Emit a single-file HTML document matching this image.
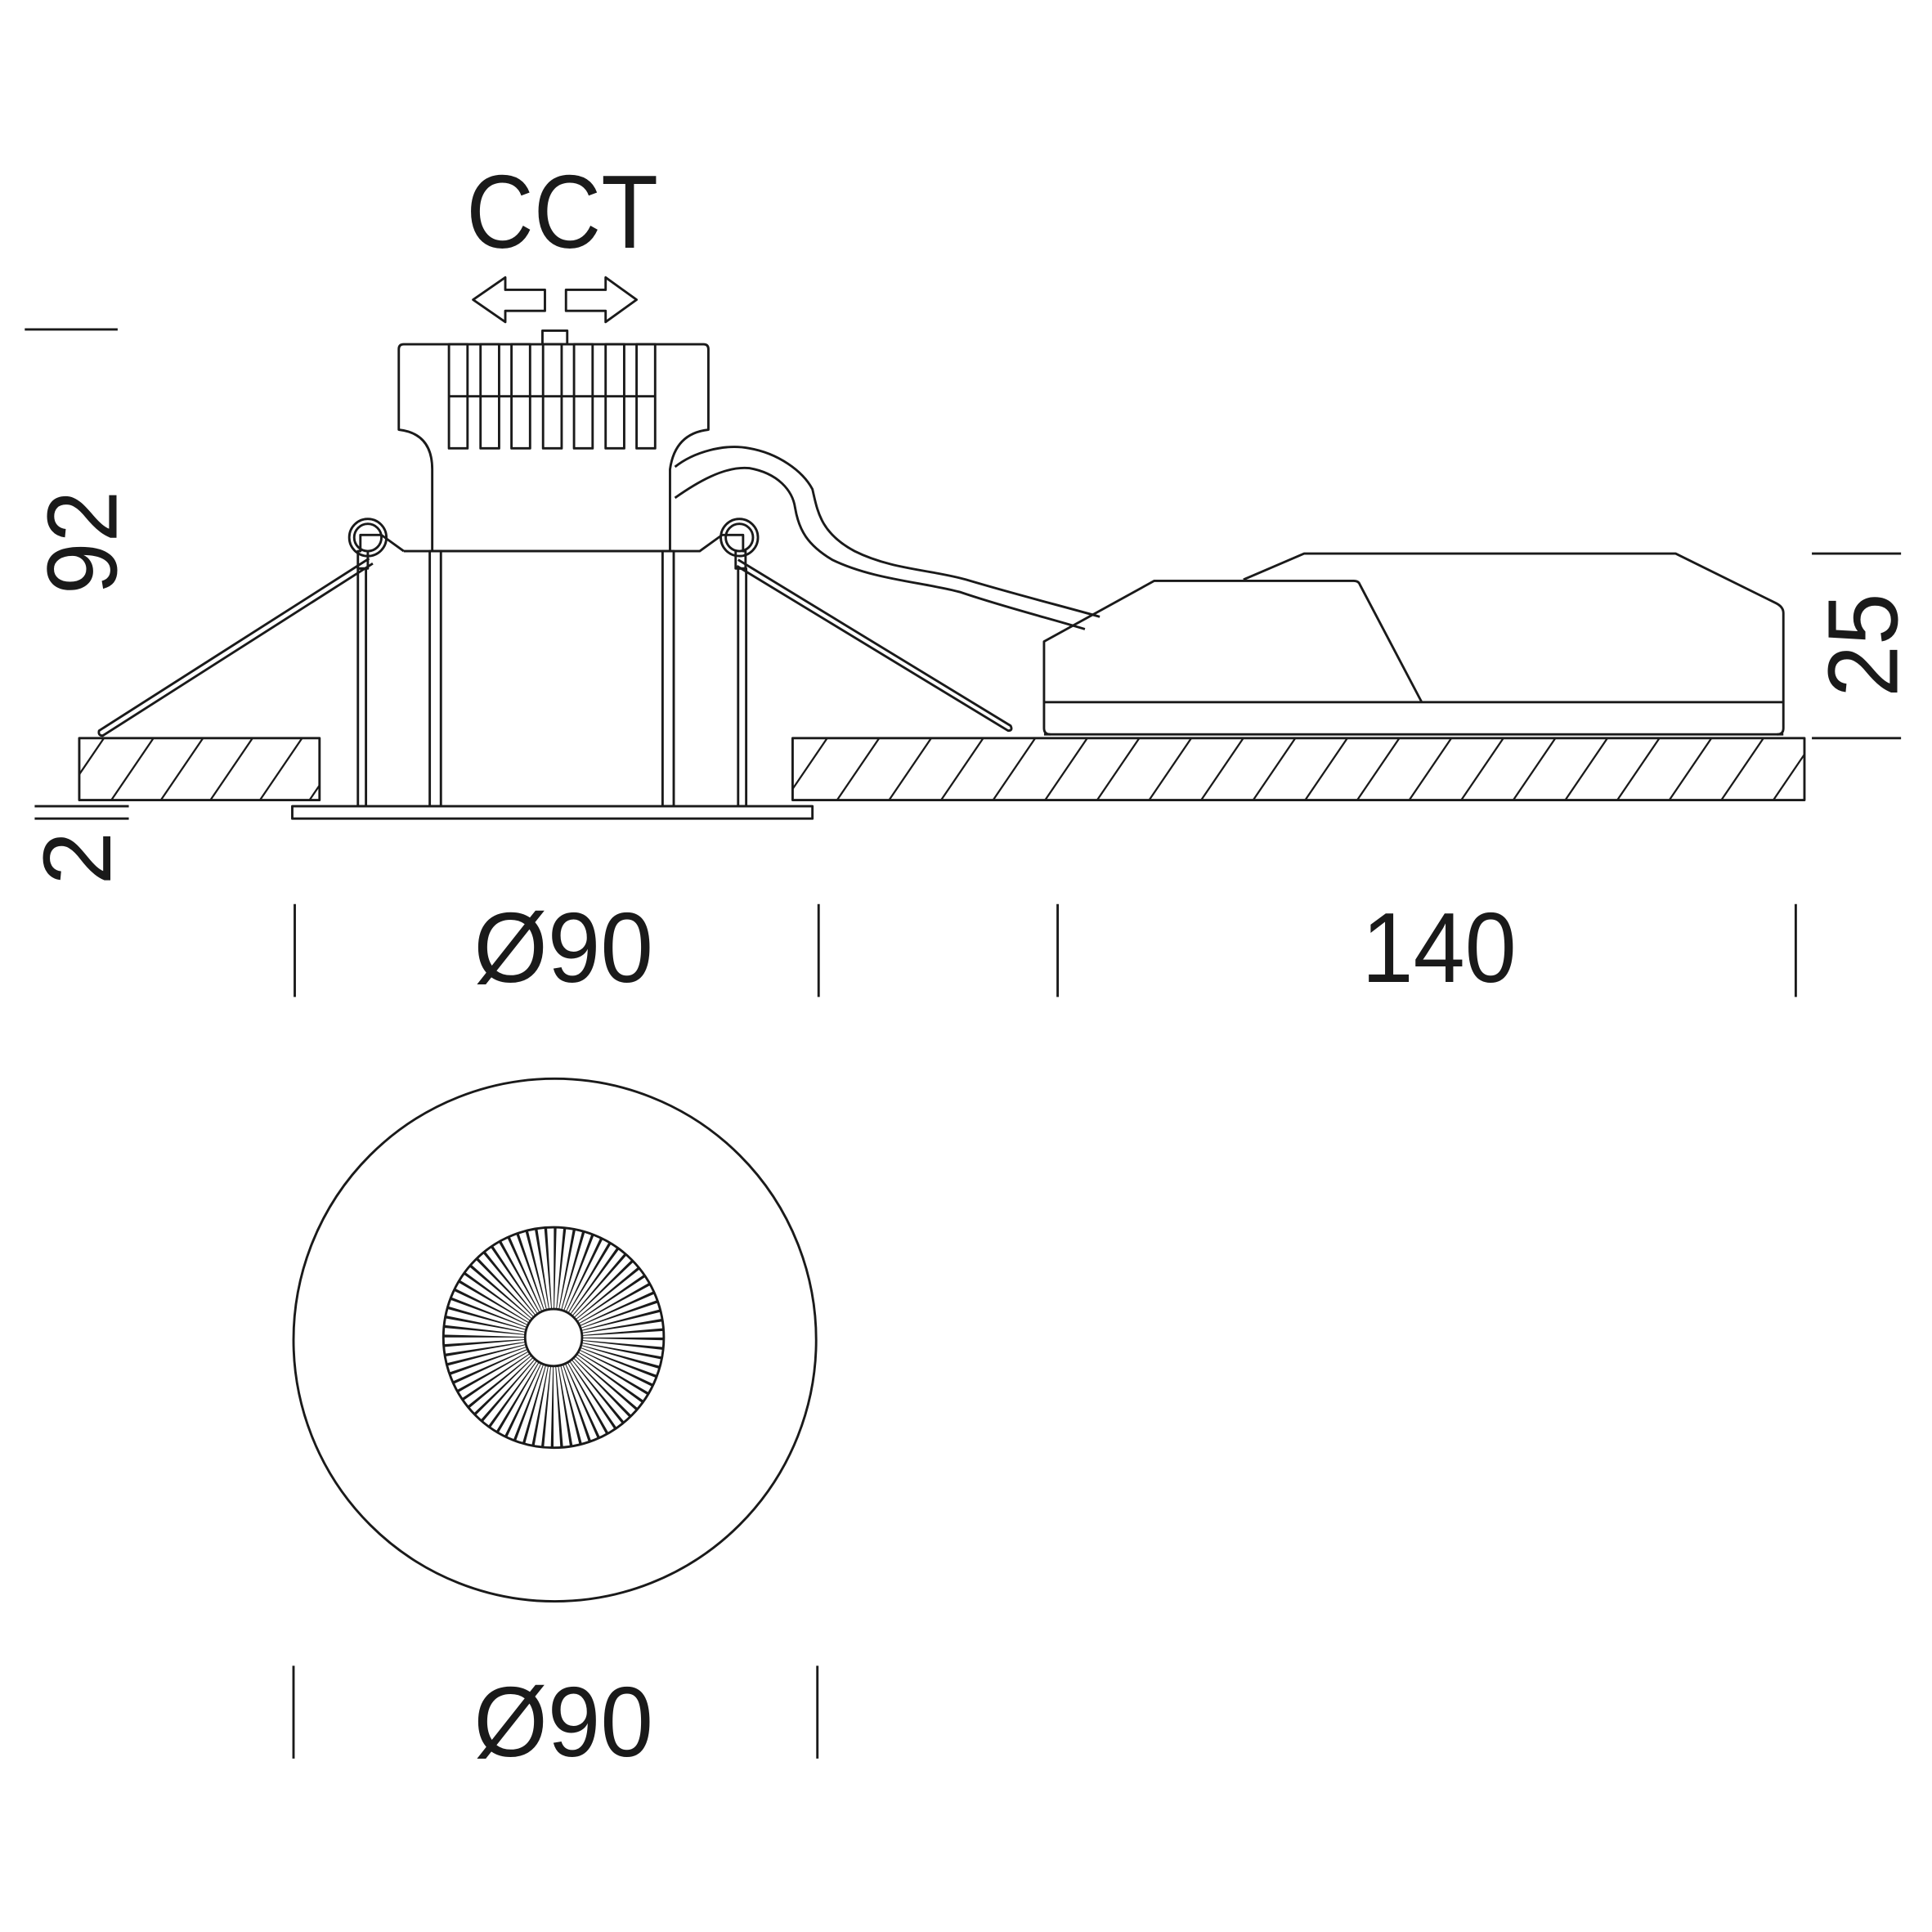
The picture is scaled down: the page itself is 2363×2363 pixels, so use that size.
<!DOCTYPE html>
<html><head><meta charset="utf-8"><style>
html,body{margin:0;padding:0;background:#fff}
svg{display:block}
text{font-family:"Liberation Sans",Arial,sans-serif;fill:#1a1a1a}
</style></head><body>
<svg width="2363" height="2363" viewBox="0 0 1560 1560" xmlns="http://www.w3.org/2000/svg">
<defs>
<clipPath id="cL"><rect x="64" y="596" width="194" height="50"/></clipPath>
<clipPath id="cR"><rect x="640" y="596" width="817" height="50"/></clipPath>
</defs>
<g fill="none" stroke="#1a1a1a" stroke-width="1.9" stroke-linejoin="round">
<line x1="20" y1="266" x2="95" y2="266"/>
<line x1="28" y1="651" x2="104" y2="651"/>
<line x1="28" y1="661" x2="104" y2="661"/>
<line x1="1463" y1="447" x2="1535" y2="447"/>
<line x1="1463" y1="596" x2="1535" y2="596"/>
<line x1="238" y1="730" x2="238" y2="805"/>
<line x1="661" y1="730" x2="661" y2="805"/>
<line x1="854" y1="730" x2="854" y2="805"/>
<line x1="1450" y1="730" x2="1450" y2="805"/>
<line x1="237" y1="1345" x2="237" y2="1420"/>
<line x1="660" y1="1345" x2="660" y2="1420"/>
<path d="M382,242 L408,224 L408,234 L440,234 L440,251 L408,251 L408,260 Z"/>
<path d="M514,242 L489,224 L489,234 L457,234 L457,251 L489,251 L489,260 Z"/>
<rect x="438" y="267" width="20" height="11"/>
<path d="M326,278 L568,278 Q572,278 572,282 L572,347 Q545,350 541,379 L541,445 L349,445 L349,379 Q349,350 322,347 L322,282 Q322,278 326,278 Z"/>
<rect x="362.5" y="278" width="15" height="84"/>
<rect x="388" y="278" width="15" height="84"/>
<rect x="413" y="278" width="15" height="84"/>
<rect x="438.5" y="278" width="15" height="84"/>
<rect x="463.5" y="278" width="15" height="84"/>
<rect x="489" y="278" width="15" height="84"/>
<rect x="514" y="278" width="15" height="84"/>
<line x1="362.5" y1="320" x2="529" y2="320"/>
<path d="M326,445 L565,445 L583,432 L600,432 L600,445 L602,445 L602,459 L594,459 L594,445"/>
<path d="M326,445 L308,432 L291,432 L291,445 L289,445 L289,459 L297,459 L297,445"/>
<circle cx="297" cy="434" r="15"/><circle cx="297" cy="434" r="11"/>
<circle cx="597" cy="434" r="15"/><circle cx="597" cy="434" r="11"/>
<rect x="347" y="445" width="9" height="206"/>
<rect x="535" y="445" width="9" height="206"/>
<rect x="289" y="459" width="6.5" height="192"/>
<rect x="596" y="459" width="6.5" height="192"/>
<rect x="236" y="651" width="420" height="10"/>
<path d="M298,451 L80,590 Q79,594 83,594 L301,455"/>
<path d="M596,452 L816,586 Q818,590 814,590 L595,457"/>
<path d="M545,377 C560,365 585,358 605,362 C628,366 648,380 656,395 C660,412 662,430 690,445 C720,460 752,460 780,468 C820,480 860,490 888,498"/>
<path d="M545,402 C562,390 585,376 605,378 C628,382 640,396 642,410 C645,428 652,440 672,452 C705,468 745,470 775,478 C810,490 850,500 876,508"/>
<path d="M1004,468 L1053,447 L1353,447 L1434,487 Q1440,490 1440,495 L1440,588 Q1440,593 1435,593"/>
<path d="M848,593 Q843,593 843,588 L843,518 L932,469 L1093,469 Q1097,469 1098,472 L1148,567"/>
<path d="M843,593 L1440,593 M843,567 L1440,567"/>
<rect x="64" y="596" width="194" height="50"/>
<rect x="640" y="596" width="817" height="50"/>
<g clip-path="url(#cL)" stroke-width="1.5">
<path d="M20,690 L88,590 M60,690 L128,590 M100,690 L168,590 M140,690 L208,590 M180,690 L248,590 M220,690 L288,590 M260,690 L328,590"/>
</g>
<g clip-path="url(#cR)" stroke-width="1.5">
<path d="M604,690 L672,590 M646,690 L714,590 M688,690 L756,590 M730,690 L798,590 M772,690 L840,590 M814,690 L882,590 M856,690 L924,590 M898,690 L966,590 M940,690 L1008,590 M982,690 L1050,590 M1024,690 L1092,590 M1066,690 L1134,590 M1108,690 L1176,590 M1150,690 L1218,590 M1192,690 L1260,590 M1234,690 L1302,590 M1276,690 L1344,590 M1318,690 L1386,590 M1360,690 L1428,590 M1402,690 L1470,590 M1444,690 L1512,590"/>
</g>
<circle cx="448" cy="1082" r="211"/>
<circle cx="447" cy="1080" r="56" stroke-width="66" stroke-dasharray="1.4 3.487"/>
<circle cx="447" cy="1080" r="89"/>
<circle cx="447" cy="1080" r="23" fill="#fff"/>
</g>
<text x="454" y="200" font-size="84" text-anchor="middle" textLength="155" lengthAdjust="spacingAndGlyphs">CCT</text>
<text x="455" y="793" font-size="80" text-anchor="middle" textLength="145" lengthAdjust="spacingAndGlyphs">Ø90</text>
<text x="1162" y="793" font-size="80" text-anchor="middle" textLength="125" lengthAdjust="spacingAndGlyphs">140</text>
<text x="455" y="1418" font-size="80" text-anchor="middle" textLength="145" lengthAdjust="spacingAndGlyphs">Ø90</text>
<text font-size="80" text-anchor="middle" transform="translate(94,438) rotate(-90)" textLength="84" lengthAdjust="spacingAndGlyphs">92</text>
<text font-size="78" text-anchor="middle" transform="translate(89,693) rotate(-90)">2</text>
<text font-size="80" text-anchor="middle" transform="translate(1532,521) rotate(-90)" textLength="84" lengthAdjust="spacingAndGlyphs">25</text>
</svg>
</body></html>
